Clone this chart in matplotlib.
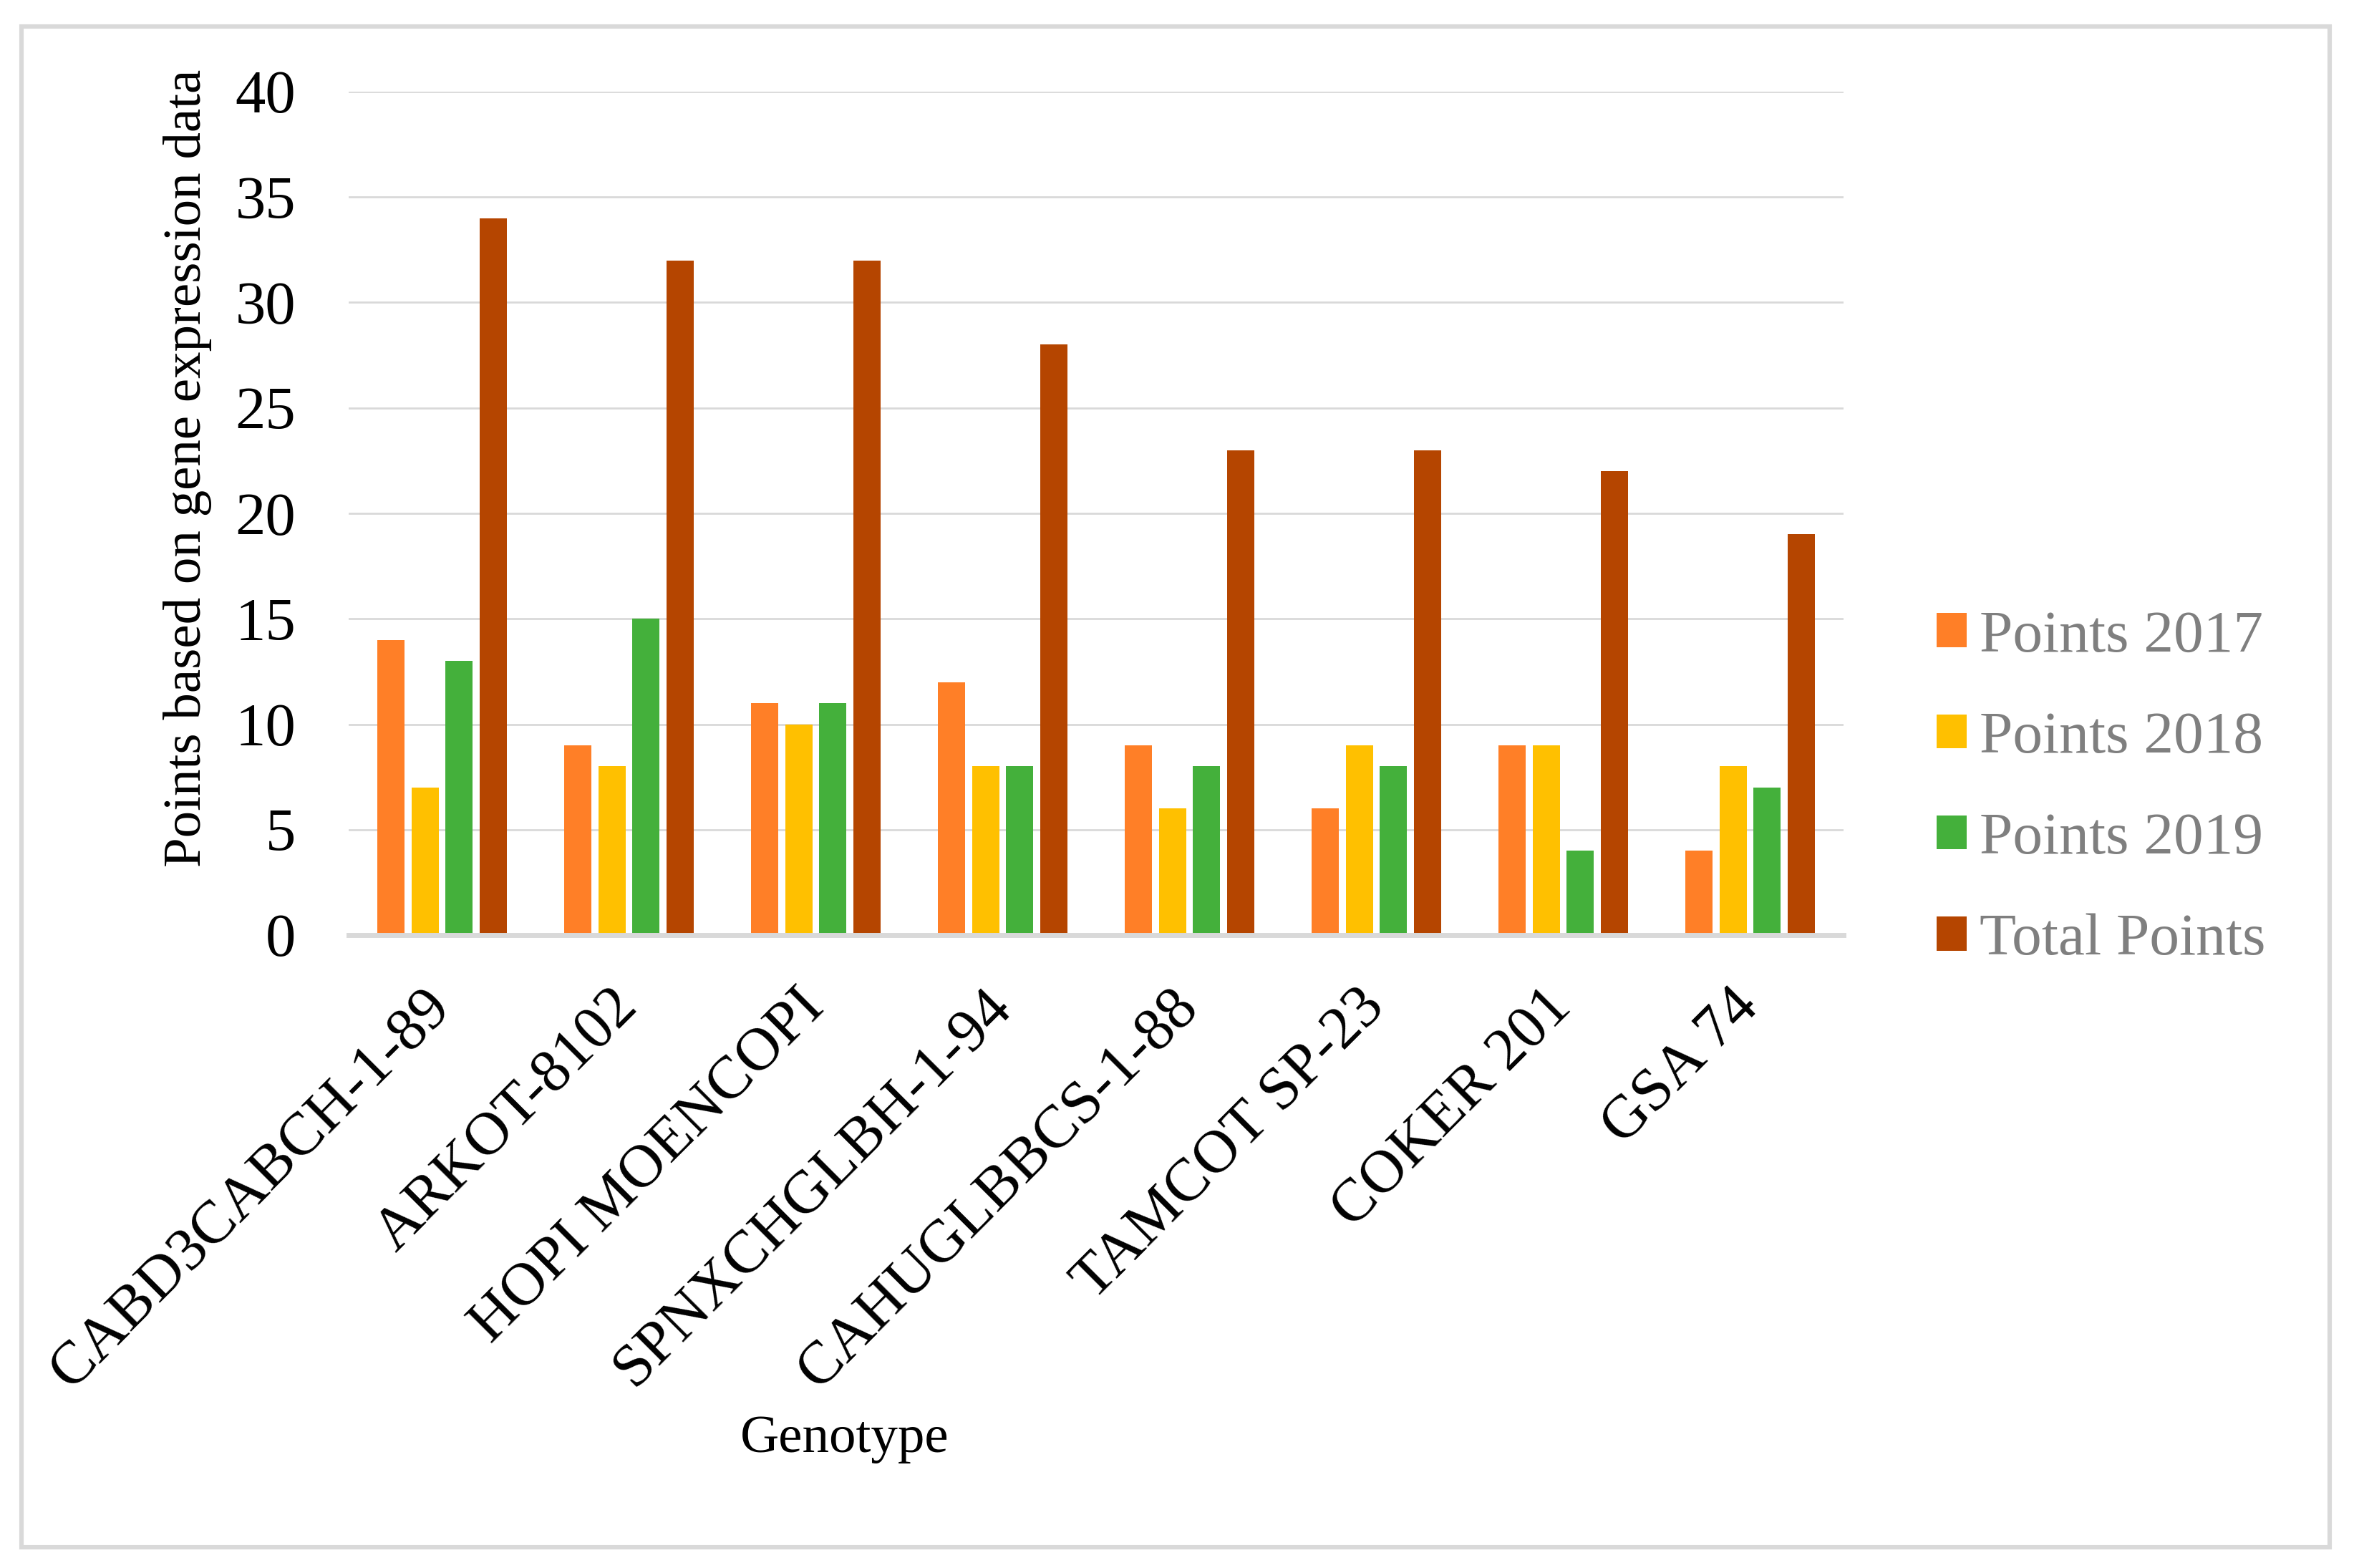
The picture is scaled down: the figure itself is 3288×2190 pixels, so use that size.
import matplotlib
matplotlib.use("Agg")
import matplotlib.pyplot as plt
from matplotlib.patches import Rectangle
import numpy as np

plt.rcParams['font.family'] = ['Liberation Serif', 'DejaVu Serif']

genotypes = ["CABD3CABCH-1-89", "ARKOT-8102", "HOPI MOENCOPI", "SPNXCHGLBH-1-94",
             "CAHUGLBBCS-1-88", "TAMCOT SP-23", "COKER 201", "GSA 74"]
points_2017 = [14, 9, 11, 12, 9, 6, 9, 4]
points_2018 = [7, 8, 10, 8, 6, 9, 9, 8]
points_2019 = [13, 15, 11, 8, 8, 8, 4, 7]
total_points = [34, 32, 32, 28, 23, 23, 22, 19]
series_names = ["Points 2017", "Points 2018", "Points 2019", "Total Points"]
y_ticks = [0, 5, 10, 15, 20, 25, 30, 35, 40]

colors = ["#FF7F27", "#FFC000", "#44B03B", "#B54500"]
W, H = 3288, 2190
dpi = 200
fig = plt.figure(figsize=(W / dpi, H / dpi), dpi=dpi)
fig.patch.set_facecolor("white")

ax = fig.add_axes([487 / W, 1 - 1306 / H, (2575 - 487) / W, (1306 - 128) / H])

series = [points_2017, points_2018, points_2019, total_points]
x = np.arange(len(genotypes))
pitch = 0.182
width = 0.146
handles = []
for k, (vals, name, col) in enumerate(zip(series, series_names, colors)):
    b = ax.bar(x + (k - 1.5) * pitch, vals, width=width, color=col, label=name, zorder=2)
    handles.append(b)

ax.set_xlim(-0.5, len(genotypes) - 0.5)
ax.set_ylim(0, 40)
ax.set_yticks(y_ticks)
ax.set_yticklabels([str(v) for v in y_ticks])
ax.yaxis.grid(True, color="#D9D9D9", linewidth=1.0)
ax.set_axisbelow(True)
for s in ["left", "top", "right"]:
    ax.spines[s].set_visible(False)
ax.spines["bottom"].set_color("#D9D9D9")
ax.spines["bottom"].set_linewidth(2.5)
ax.spines["bottom"].set_zorder(3)

ax.tick_params(axis="y", length=0, pad=26.6, labelsize=30.5, labelcolor="black")
ax.tick_params(axis="x", length=0, pad=32, labelsize=30.5, labelcolor="black")
ax.set_xticks(x)
ax.set_xticklabels(genotypes, rotation=45, ha="right", va="center", rotation_mode="anchor")

fig.text(262 / W, 1 - 654 / H, "Points based on gene expression data", rotation=90,
         ha="center", va="center", fontsize=27, color="black")
fig.text(1180 / W, 1 - 2028 / H, "Genotype", ha="center", va="baseline",
         fontsize=27, color="black")

leg = fig.legend(handles=handles, labels=series_names, loc="upper left",
                 bbox_to_anchor=(2705 / W, 1 - 852 / H), bbox_transform=fig.transFigure,
                 frameon=False, fontsize=30, handlelength=0.5, handleheight=0.5,
                 handletextpad=0.22, labelspacing=0.79, borderpad=0, borderaxespad=0)
for t in leg.get_texts():
    t.set_color("#7F7F7F")

border = Rectangle((30 / W, 1 - 2161 / H), (3254 - 30) / W, (2161 - 37) / H,
                   transform=fig.transFigure, fill=False, edgecolor="#D9D9D9",
                   linewidth=2.2, zorder=10)
fig.patches.append(border)

fig.savefig("out.png", dpi=dpi, facecolor="white")
